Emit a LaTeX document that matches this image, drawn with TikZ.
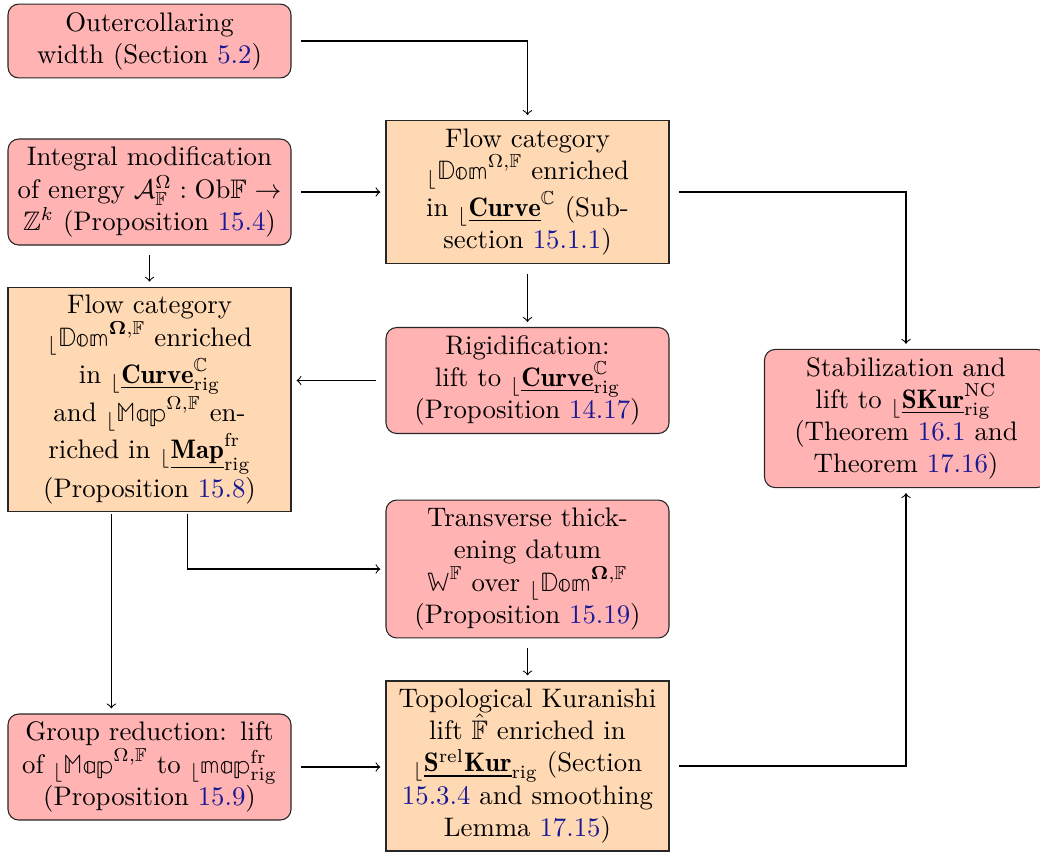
\documentclass[tikz,border=0pt]{standalone}
\usepackage{amsmath,amssymb}
\usepackage{fontspec}
\newfontfamily\lmmfont{Latin Modern Math}
\definecolor{pinkfill}{RGB}{255,179,179}
\definecolor{orangefill}{RGB}{255,217,179}
\definecolor{refblue}{RGB}{25,25,150}
\newcommand{\rf}[1]{\textcolor{refblue}{#1}}
\newcommand{\lf}{{}_{\lfloor}}
\newcommand{\dbl}[1]{\text{\lmmfont #1}}
\begin{document}
\begin{tikzpicture}[x=0.3731pt,y=-0.3731pt,
  base/.style={draw=black!85, text width=3.5cm, align=center, inner sep=3pt},
  rbox/.style={base, fill=pinkfill, rounded corners=4pt},
  obox/.style={base, fill=orangefill},
  conn/.style={->, shorten <=3.7pt, shorten >=1.9pt}]
\useasboundingbox (0,0) rectangle (1040,857);

\node[rbox] (A) at (149.5,41) {Outercollaring\\ width (Section \rf{5.2})};
\node[rbox] (B) at (149.5,192) {Integral modification\\ of energy $\mathcal{A}^{\Omega}_{\mathbb{F}}:\mathrm{Ob}\mathbb{F}\to$\\ $\mathbb{Z}^k$ (Proposition \rf{15.4})};
\node[obox] (C) at (527.5,192) {Flow category\\ $\lf\dbl{𝔻𝕠𝕞}^{\Omega,\mathbb{F}}$ enriched\\ in $\lf\underline{\mathbf{Curve}}^{\mathbb{C}}$ (Sub-\\section \rf{15.1.1})};
\node[obox] (D) at (149.5,399.5) {Flow category\\ $\lf\dbl{𝔻𝕠𝕞}^{\boldsymbol{\Omega},\mathbb{F}}$ enriched\\ in $\lf\underline{\mathbf{Curve}}^{\mathbb{C}}_{\mathrm{rig}}$\\ and $\lf\dbl{𝕄𝕒𝕡}^{\Omega,\mathbb{F}}$ en-\\riched in $\lf\underline{\mathbf{Map}}^{\mathrm{fr}}_{\mathrm{rig}}$\\ (Proposition \rf{15.8})};
\node[rbox] (E) at (527.5,380.5) {Rigidification:\\ lift to $\lf\underline{\mathbf{Curve}}^{\mathbb{C}}_{\mathrm{rig}}$\\ (Proposition \rf{14.17})};
\node[rbox] (F) at (906,418.5) {Stabilization and\\ lift to $\lf\underline{\mathbf{SKur}}^{\mathrm{NC}}_{\mathrm{rig}}$\\ (Theorem \rf{16.1} and\\ Theorem \rf{17.16})};
\node[rbox] (G) at (527.5,569) {Transverse thick-\\ening datum\\ $\dbl{𝕎}^{\mathbb{F}}$ over $\lf\dbl{𝔻𝕠𝕞}^{\boldsymbol{\Omega},\mathbb{F}}$\\ (Proposition \rf{15.19})};
\node[rbox] (H) at (149.5,767) {Group reduction: lift\\ of $\lf\dbl{𝕄𝕒𝕡}^{\Omega,\mathbb{F}}$ to $\lf\dbl{𝕞𝕒𝕡}^{\mathrm{fr}}_{\mathrm{rig}}$\\ (Proposition \rf{15.9})};
\node[obox] (I) at (527.5,766) {Topological Kuranishi\\ lift $\hat{\mathbb{F}}$ enriched in\\ $\lf\underline{\mathbf{S}^{\mathrm{rel}}\mathbf{Kur}}_{\mathrm{rig}}$ (Section\\ \rf{15.3.4} and smoothing\\ Lemma \rf{17.15})};

\draw[conn] (A.east) -| (C.north);
\draw[conn] (B.east) -- (C.west);
\draw[conn] (C.east) -| (F.north);
\draw[conn] (C.south) -- (E.north);
\draw[conn] (B.south) -- (D.north);
\draw[conn] (E.west) -- (E.west -| D.east);
\draw[conn, shorten <=0.7pt] ([xshift=0.5cm]D.south) |- (G.west);
\draw[conn, shorten <=0.7pt] ([xshift=-0.5cm]D.south) -- ([xshift=-0.5cm]D.south |- H.north);
\draw[conn] (G.south) -- (I.north);
\draw[conn] (H.east) -- (H.east -| I.west);
\draw[conn] (I.east) -| (F.south);
\end{tikzpicture}
\end{document}
